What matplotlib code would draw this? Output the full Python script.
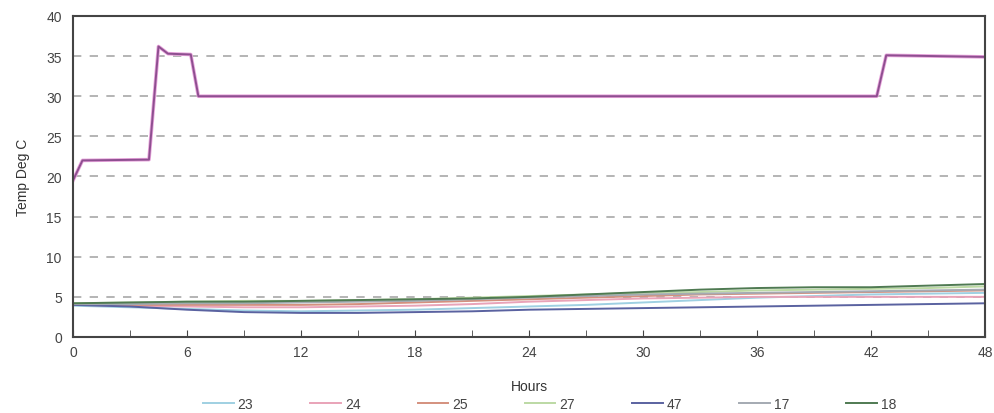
import matplotlib
matplotlib.use("Agg")
import matplotlib.pyplot as plt
from matplotlib.ticker import MultipleLocator

plt.rcParams['font.family'] = ['Liberation Sans', 'DejaVu Sans']

hours = [0, 3, 6, 9, 12, 15, 18, 21, 24, 27, 30, 33, 36, 39, 42, 45, 48]
s23 = [3.9, 3.7, 3.5, 3.3, 3.2, 3.3, 3.4, 3.6, 3.8, 4.0, 4.3, 4.6, 4.9, 5.1, 5.3, 5.4, 5.5]
s24 = [4.0, 3.9, 3.8, 3.7, 3.7, 3.8, 3.9, 4.1, 4.4, 4.6, 4.8, 4.9, 5.0, 5.0, 5.0, 5.0, 5.0]
s25 = [4.1, 4.0, 4.0, 4.0, 4.0, 4.1, 4.3, 4.5, 4.7, 4.9, 5.1, 5.3, 5.4, 5.5, 5.6, 5.7, 5.8]
s27 = [4.2, 4.3, 4.4, 4.5, 4.5, 4.6, 4.7, 4.9, 5.1, 5.3, 5.5, 5.6, 5.8, 5.9, 6.0, 6.1, 6.3]
s47 = [4.0, 3.8, 3.4, 3.1, 3.0, 3.0, 3.1, 3.2, 3.4, 3.5, 3.6, 3.7, 3.8, 3.9, 4.0, 4.1, 4.2]
s17 = [4.1, 4.1, 4.2, 4.2, 4.3, 4.4, 4.5, 4.7, 4.9, 5.1, 5.3, 5.4, 5.5, 5.6, 5.7, 5.8, 5.9]
s18 = [4.2, 4.3, 4.4, 4.4, 4.5, 4.6, 4.7, 4.8, 5.0, 5.3, 5.6, 5.9, 6.1, 6.2, 6.2, 6.4, 6.6]

air_hours = [0, 0.5, 4.0, 4.5, 5.0, 6.2, 6.6, 42.3, 42.8, 48]
air_temp = [19.5, 22.0, 22.1, 36.2, 35.3, 35.2, 30.0, 30.0, 35.1, 34.9]

labels = ['23', '24', '25', '27', '47', '17', '18']
series = [s23, s24, s25, s27, s47, s17, s18]
colors = ['#9fd0e2', '#e9a3b8', '#d4907e', '#bcd9a4', '#5a62a0', '#a4aab2', '#4f7a52']

fig = plt.figure(figsize=(9.94, 4.14), dpi=100)
ax = fig.add_axes([0.0734, 0.1836, 0.9176, 0.7754])

for y in range(5, 40, 5):
    ax.axhline(y, color='#a8a8a8', lw=1.2, ls=(0, (5, 5)), zorder=0)

for lab, s, c in zip(labels, series, colors):
    ax.plot(hours, s, color=c, lw=1.4, label=lab)

ax.plot(air_hours, air_temp, color='#e8a4dc', lw=2.6)
ax.plot(air_hours, air_temp, color='#8e4f90', lw=1.4)

ax.set_xlim(0, 48)
ax.set_ylim(0, 40)
ax.xaxis.set_major_locator(MultipleLocator(6))
ax.xaxis.set_minor_locator(MultipleLocator(3))
ax.yaxis.set_major_locator(MultipleLocator(5))
ax.tick_params(axis='x', which='both', direction='in', length=5, color='#444444',
               labelsize=10, labelcolor='#444444', pad=6)
ax.tick_params(axis='y', which='both', length=0, labelsize=10, labelcolor='#444444', pad=8)
for sp in ax.spines.values():
    sp.set_color('#444444')
    sp.set_linewidth(1.5)

ax.set_xlabel('Hours', fontsize=10, color='#333333', labelpad=14)
ax.set_ylabel('Temp Deg C', fontsize=10, color='#333333', labelpad=12)

fig.legend(loc='lower center', bbox_to_anchor=(0.553, -0.025), ncol=7, frameon=False,
           fontsize=10, handlelength=2.2, handletextpad=0.3, columnspacing=4.1,
           labelcolor='#444444')

fig.savefig('out.png', dpi=100)
